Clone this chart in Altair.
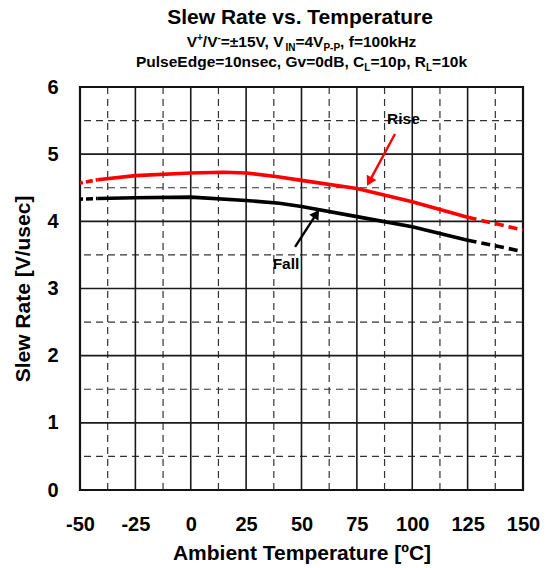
import math
import altair as alt
import pandas as pd

# ---------------- data ----------------
rise_temp = [-50, -42, -25, 0, 15, 25, 40, 50, 75, 100, 125, 150]
rise_rate = [4.57, 4.62, 4.68, 4.72, 4.73, 4.72, 4.66, 4.61, 4.49, 4.29, 4.06, 3.87]
fall_temp = [-50, -42, -25, 0, 25, 40, 50, 75, 100, 125, 150]
fall_rate = [4.33, 4.34, 4.35, 4.36, 4.31, 4.27, 4.22, 4.07, 3.92, 3.72, 3.55]
solid_from = -42      # curve drawn solid between these temperatures
solid_to = 125

x_ticks = [-50, -25, 0, 25, 50, 75, 100, 125, 150]
x_minor = [-37.5, -12.5, 12.5, 37.5, 62.5, 87.5, 112.5, 137.5]
y_ticks = [0, 1, 2, 3, 4, 5, 6]
y_minor = [0.5, 1.5, 2.5, 3.5, 4.5, 5.5]

ann_text = ["Rise", "Fall"]
ann_color = ["#ff0000", "#000000"]
ann_temp = [96.0, 43.0]
ann_rate = [5.52, 3.37]
arrow_from_temp = [92.2, 47.1]
arrow_from_rate = [5.30, 3.62]
arrow_to_temp = [79.6, 57.9]
arrow_to_rate = [4.53, 4.17]

title_text = "Slew Rate vs. Temperature"
# (text, kind) kind: n = normal, sup = superscript, sub = subscript
sub_line1 = [("V", "n"), ("+", "sup"), ("/V", "n"), ("-", "sup"), ("=±15V, V", "n"),
             ("IN", "sub"), ("=4V", "n"), ("P-P", "sub"), (", f=100kHz", "n")]
sub_line2 = [("PulseEdge=10nsec, Gv=0dB, C", "n"), ("L", "sub"), ("=10p, R", "n"),
             ("L", "sub"), ("=10k", "n")]

# ---------------- layout / style ----------------
W, H = 443, 403
FONT = "Liberation Sans, Arial, sans-serif"
RED, BLACK = "#ff0000", "#000000"

# Arial-bold advance widths (per 1000 em) for positioning title pieces
AW = {" ": 278, "+": 584, ",": 278, "-": 333, ".": 278, "/": 278, "=": 584, "±": 584,
      "0": 556, "1": 556, "4": 556, "5": 556, "B": 722, "C": 722, "E": 667, "G": 778,
      "H": 722, "I": 278, "L": 611, "N": 722, "P": 667, "R": 722, "V": 667, "c": 556,
      "d": 611, "e": 556, "f": 333, "g": 611, "k": 556, "l": 278, "n": 611, "p": 611,
      "s": 556, "u": 611, "v": 556, "z": 500}


def tw(s, size):
    return sum(AW.get(ch, 556) for ch in s) * size / 1000.0


SUB_FS = 15.5
SMALL_FS = 10.0
rows = []
for pieces, base_y in [(sub_line1, -40), (sub_line2, -20)]:
    widths = [tw(t, SUB_FS if k == "n" else SMALL_FS) for t, k in pieces]
    x = W / 2 - sum(widths) / 2
    for (t, k), w in zip(pieces, widths):
        dy = {"n": 0, "sup": -6, "sub": 3.5}[k]
        rows.append({"t": t, "px": x, "py": base_y + dy,
                     "fs": SUB_FS if k == "n" else SMALL_FS})
        x += w
rows.append({"t": title_text, "px": W / 2 - tw(title_text, 21) / 2, "py": -63, "fs": 21})
title_df = pd.DataFrame(rows)

# curve data split into segments
crow = []
for name, ts, vs in [("Rise", rise_temp, rise_rate), ("Fall", fall_temp, fall_rate)]:
    for t, v in zip(ts, vs):
        if t <= solid_from:
            crow.append({"series": name, "seg": "low", "t": t, "v": v})
        if solid_from <= t <= solid_to:
            crow.append({"series": name, "seg": "mid", "t": t, "v": v})
        if t >= solid_to:
            crow.append({"series": name, "seg": "high", "t": t, "v": v})
curves = pd.DataFrame(crow)

# arrows
ppx = W / 200.0
ppy = H / 6.0
arows = []
for i in range(2):
    dxp = (arrow_to_temp[i] - arrow_from_temp[i]) * ppx
    dyp = -(arrow_to_rate[i] - arrow_from_rate[i]) * ppy
    L = math.hypot(dxp, dyp)
    ang = math.degrees(math.atan2(dxp, -dyp)) % 360
    back = 4.7
    arows.append({"c": ann_color[i], "t0": arrow_from_temp[i], "v0": arrow_from_rate[i],
                  "ht": arrow_to_temp[i] - dxp / L * back / ppx,
                  "hv": arrow_to_rate[i] + dyp / L * back / ppy,
                  "ang": ang})
arrows = pd.DataFrame(arows)
ann_df = pd.DataFrame({"text": ann_text, "t": ann_temp, "v": ann_rate})

xs = alt.Scale(domain=[-50, 150], nice=False, zero=False)
ys = alt.Scale(domain=[0, 6], nice=False, zero=False)

xax = alt.Axis(values=x_ticks, title="Ambient Temperature [ºC]", grid=False, domain=False,
               ticks=False, tickSize=0, labelPadding=24, labelFlush=False, labelOverlap=False,
               labelExpr="'' + datum.value",
               titleY=69, titleX=W / 2, titleBaseline="alphabetic", titleAlign="center")
yax = alt.Axis(values=y_ticks, title="Slew Rate [V/usec]", grid=False, domain=False,
               ticks=False, tickSize=0, labelPadding=22, labelFlush=False, labelOverlap=False,
               labelExpr="'' + datum.value",
               titleAngle=270, titleX=-51, titleY=H / 2, titleBaseline="alphabetic",
               titleAlign="center")


def X(field):
    return alt.X(field, scale=xs, axis=xax)


def Y(field):
    return alt.Y(field, scale=ys, axis=yax)


gx_minor = alt.Chart(pd.DataFrame({"x": x_minor})).mark_rule(
    color="#333333", strokeWidth=1.2, strokeDash=[7, 5]).encode(x=X("x:Q"))
gy_minor = alt.Chart(pd.DataFrame({"y": y_minor})).mark_rule(
    color="#333333", strokeWidth=1.2, strokeDash=[7, 5]).encode(y=Y("y:Q"))
gx_major = alt.Chart(pd.DataFrame({"x": x_ticks})).mark_rule(
    color="#1a1a1a", strokeWidth=1.6).encode(x=X("x:Q"))
gy_major = alt.Chart(pd.DataFrame({"y": y_ticks})).mark_rule(
    color="#1a1a1a", strokeWidth=1.6).encode(y=Y("y:Q"))

color = alt.Color("series:N", scale=alt.Scale(domain=["Rise", "Fall"], range=[RED, BLACK]),
                  legend=None)


def curve_layer(seg, dash=None):
    kw = {"strokeWidth": 3.6, "strokeCap": "butt"}
    if dash:
        kw["strokeDash"] = dash
    return alt.Chart(curves).transform_filter(alt.datum.seg == seg).mark_line(**kw).encode(
        x=X("t:Q"), y=Y("v:Q"), color=color, detail="series:N")


lines = [curve_layer("mid"), curve_layer("low", [3, 3, 7, 3]), curve_layer("high", [9, 5])]

arrow_lines = alt.Chart(arrows).mark_rule(strokeWidth=2.4).encode(
    x=X("t0:Q"), y=Y("v0:Q"),
    x2="ht:Q", y2="hv:Q", color=alt.Color("c:N", scale=None, legend=None))
arrow_heads = alt.Chart(arrows).mark_point(shape="triangle-up", filled=True, size=120,
                                            opacity=1).encode(
    x=X("ht:Q"), y=Y("hv:Q"),
    angle=alt.Angle("ang:Q", scale=None), color=alt.Color("c:N", scale=None, legend=None))

ann = alt.Chart(ann_df).mark_text(font=FONT, fontSize=15.5, fontWeight="bold",
                                  color="black", baseline="middle").encode(
    x=X("t:Q"), y=Y("v:Q"), text="text:N")

titles = alt.Chart(title_df).mark_text(font=FONT, fontWeight="bold", color="black",
                                       align="left", baseline="alphabetic").encode(
    x=alt.X("px:Q", scale=None, axis=None), y=alt.Y("py:Q", scale=None, axis=None),
    size=alt.Size("fs:Q", scale=None, legend=None), text="t:N")

chart = alt.layer(gx_minor, gy_minor, gx_major, gy_major, *lines, arrow_lines, arrow_heads,
                  ann, titles).properties(
    width=W, height=H,
    padding={"left": 72, "top": 79, "right": 20, "bottom": 74},
    autosize=alt.AutoSizeParams(type="none"),
    background="white",
).configure_view(stroke="black", strokeWidth=2.2).configure_axis(
    labelFont=FONT, labelFontSize=20, labelFontWeight="bold", labelColor="black",
    titleFont=FONT, titleFontSize=21, titleFontWeight="bold", titleColor="black")

chart.save("out.html", embed_options={"renderer": "svg", "actions": False})
